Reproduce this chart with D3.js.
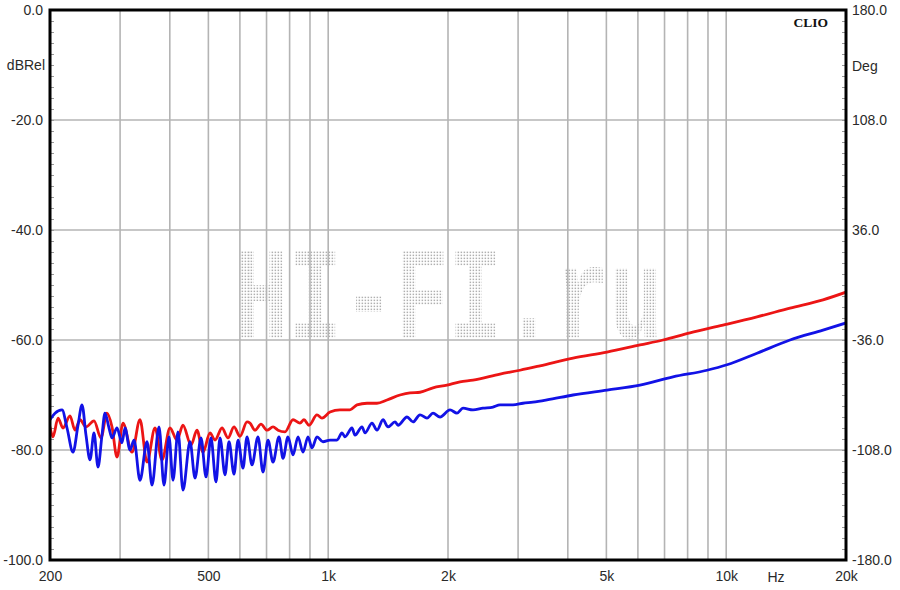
<!DOCTYPE html>
<html><head><meta charset="utf-8">
<script src="https://cdn.jsdelivr.net/npm/d3@7"></script>
<style>html,body{margin:0;padding:0;background:#fff;}svg{display:block;}</style>
</head><body>
<svg id="chart" width="900" height="590"></svg>
<script>
// ---- data ----
const xTickValues = [200, 500, 1000, 2000, 5000, 10000, 20000];
const xTickLabels = ["200", "500", "1k", "2k", "5k", "10k", "20k"];
const xGridValues = [300, 400, 500, 600, 700, 800, 900, 1000, 2000, 3000, 4000, 5000, 6000, 7000, 8000, 9000, 10000];
const dbTickValues = [0, -20, -40, -60, -80, -100];
const degTickValues = [180, 108, 36, -36, -108, -180];

const blueFreq = [200, 205.9, 214.4, 220.7, 228.5, 235.2, 240.7, 246.3, 252.1, 258.0, 264.0, 270.2, 274.9, 281.4, 286.3, 294.7, 303.3, 308.7, 317.7, 325.2, 336.6, 350.6, 360.8, 375.8, 386.8, 398.1, 407.5, 419.4, 431.7, 449.6, 462.8, 479.1, 493.2, 507.6, 522.5, 534.8, 550.5, 563.4, 579.9, 593.5, 610.9, 625.2, 643.5, 666.3, 685.8, 706.0, 726.7, 752.3, 770.0, 792.6, 815.8, 839.8, 864.4, 889.8, 910.6, 937.3, 970.4, 1010.6, 1052.3, 1083.2, 1102.2, 1147.7, 1167.8, 1216.1, 1237.4, 1288.5, 1326.3, 1373.2, 1413.5, 1471.9, 1497.7, 1577.7, 1633.4, 1701.0, 1771.3, 1833.8, 1909.6, 2023.3, 2106.9, 2181.3, 2311.2, 2448.9, 2594.8, 2702.0, 2913.1, 3086.6, 3270.4, 3546.3, 4122.0, 5018, 6073.7, 7351.3, 8949.4, 10047, 11952, 14466, 17509, 20000];
const blueDb = [-74.5, -73.3, -72.7, -76.0, -80.4, -75.5, -71.8, -77.3, -81.8, -76.9, -83.1, -77.3, -73.3, -76.0, -77.8, -76.0, -78.7, -76.0, -80.0, -78.2, -85.5, -78.5, -86.4, -75.8, -86.4, -77.6, -85.5, -76.7, -87.3, -78.5, -85.1, -77.8, -84.9, -77.8, -85.8, -77.8, -84.5, -78.5, -84.4, -78.2, -83.3, -77.6, -82.7, -77.6, -84.0, -78.2, -82.2, -77.6, -81.5, -77.6, -80.9, -77.6, -80.4, -77.6, -79.6, -77.6, -78.5, -78.2, -78.2, -76.9, -77.6, -76.0, -77.3, -75.8, -76.9, -75.1, -76.4, -74.5, -75.8, -74.9, -75.5, -74.0, -74.9, -73.6, -74.2, -73.3, -74.0, -72.7, -73.3, -72.4, -72.7, -72.4, -72.2, -71.8, -71.8, -71.5, -71.3, -70.9, -70.0, -69.1, -68.2, -66.7, -65.5, -64.5, -62.4, -60.0, -58.2, -56.9];

const redFreq = [200, 203.5, 209.5, 215.6, 224.5, 231.1, 237.9, 246.3, 258.0, 268.6, 278.1, 286.3, 294.7, 305.1, 321.4, 336.6, 350.6, 367.2, 382.3, 400.4, 417.0, 431.7, 452.2, 468.1, 484.7, 504.7, 519.5, 541.0, 560.1, 579.9, 600.4, 625.2, 636.1, 654.8, 677.9, 701.9, 726.7, 748.0, 778.9, 815.8, 849.5, 869.4, 894.9, 937.3, 964.8, 1010.6, 1070.7, 1134.5, 1181.4, 1251.8, 1326.3, 1405.3, 1515.1, 1605.3, 1701.0, 1833.8, 1988.5, 2143.8, 2311.2, 2702.0, 3033.5, 3405.6, 4122.0, 5018, 6073.7, 6938.1, 8111.1, 9817.4, 11952, 14466, 17509, 20000];
const redDb = [-75.8, -77.6, -74.2, -76.0, -73.8, -76.4, -74.5, -75.8, -74.7, -77.8, -73.3, -75.8, -81.3, -75.1, -80.4, -74.5, -82.2, -76.0, -81.8, -76.0, -78.2, -75.5, -79.1, -76.4, -80.4, -76.9, -78.2, -76.0, -77.8, -75.8, -77.5, -74.9, -75.1, -76.4, -75.3, -76.4, -75.8, -76.4, -76.7, -74.5, -75.1, -74.5, -75.5, -73.6, -74.2, -73.1, -72.7, -72.7, -71.8, -71.5, -71.5, -70.9, -70.0, -69.6, -69.5, -68.7, -68.2, -67.6, -67.3, -66.2, -65.5, -64.7, -63.3, -62.2, -60.9, -60.0, -58.7, -57.3, -55.8, -54.2, -52.7, -51.3];

// ---- layout ----
const L = 50, R = 846, T = 10, B = 560;
const svg = d3.select("#chart");
const x = d3.scaleLog().domain([200, 20000]).range([L, R]);
const yDb = d3.scaleLinear().domain([-100, 0]).range([B, T]);
const yDeg = d3.scaleLinear().domain([-180, 180]).range([B, T]);
const FONT = "'Liberation Sans', Arial, sans-serif";

svg.append("rect").attr("width", 900).attr("height", 590).attr("fill", "#fff");

// watermark horizontal compression factor
const WM_SX = 0.68;
const defs = svg.append("defs");
const pat = defs.append("pattern").attr("id", "dots").attr("width", 3 / WM_SX).attr("height", 3)
  .attr("patternUnits", "userSpaceOnUse");
pat.append("rect").attr("x", 0.6 / WM_SX).attr("y", 0.6).attr("width", 1.5 / WM_SX).attr("height", 1.5).attr("fill", "#b0b0b0");
defs.append("clipPath").attr("id", "plotclip").append("rect")
  .attr("x", L).attr("y", T).attr("width", R - L).attr("height", B - T);

// watermark
svg.append("text").attr("transform", `translate(235,338) scale(${WM_SX},1)`)
  .attr("font-family", "'Liberation Mono', 'Courier New', monospace")
  .attr("font-weight", "bold").attr("font-size", 131)
  .attr("fill", "url(#dots)").text("HI-FI.ru");

// grid
const grid = svg.append("g");
grid.selectAll("line.v").data(xGridValues).join("line")
  .attr("x1", d => x(d)).attr("x2", d => x(d)).attr("y1", T).attr("y2", B)
  .attr("stroke", "#b4b4b4").attr("stroke-width", 1.6);
grid.selectAll("line.h").data(dbTickValues.filter(d => d > -100 && d < 0)).join("line")
  .attr("x1", L).attr("x2", R).attr("y1", d => yDb(d)).attr("y2", d => yDb(d))
  .attr("stroke", "#b4b4b4").attr("stroke-width", 1.6);

// minor ticks (inside, no labels)
const minorL = d3.axisLeft(yDb).tickValues(d3.range(-98, 0, 2)).tickSize(-4).tickFormat("");
const gmL = svg.append("g").attr("transform", `translate(${L},0)`).call(minorL);
gmL.select(".domain").remove();
gmL.selectAll("text").remove();
gmL.selectAll("line").attr("stroke", "#999");
const minorR = d3.axisRight(yDeg).tickValues(d3.range(-172.8, 180, 7.2)).tickSize(-4).tickFormat("");
const gmR = svg.append("g").attr("transform", `translate(${R},0)`).call(minorR);
gmR.select(".domain").remove();
gmR.selectAll("text").remove();
gmR.selectAll("line").attr("stroke", "#999");

// curves
const line = d3.line().x(d => x(d[0])).y(d => yDb(d[1])).curve(d3.curveMonotoneX);
const curves = svg.append("g").attr("clip-path", "url(#plotclip)");
curves.append("path").datum(redFreq.map((f, i) => [f, redDb[i]]))
  .attr("d", line).attr("fill", "none").attr("stroke", "#ec1515").attr("stroke-width", 2.8)
  .attr("stroke-linejoin", "round");
curves.append("path").datum(blueFreq.map((f, i) => [f, blueDb[i]]))
  .attr("d", line).attr("fill", "none").attr("stroke", "#1212e6").attr("stroke-width", 2.8)
  .attr("stroke-linejoin", "round");

// frame
svg.append("rect").attr("x", L).attr("y", T).attr("width", R - L).attr("height", B - T)
  .attr("fill", "none").attr("stroke", "#000").attr("stroke-width", 3);

// axes labels
const axL = d3.axisLeft(yDb).tickValues(dbTickValues).tickSize(0).tickPadding(6).tickFormat(d => d.toFixed(1));
const gL = svg.append("g").attr("transform", `translate(${L - 1},0)`).call(axL);
gL.select(".domain").remove();
gL.selectAll("text").attr("font-family", FONT).attr("font-size", 14).attr("fill", "#2a2a2a");

const axR = d3.axisRight(yDeg).tickValues(degTickValues).tickSize(0).tickPadding(6).tickFormat(d => d.toFixed(1));
const gR = svg.append("g").attr("transform", `translate(${R},0)`).call(axR);
gR.select(".domain").remove();
gR.selectAll("text").attr("font-family", FONT).attr("font-size", 14).attr("fill", "#2a2a2a");

const axB = d3.axisBottom(x).tickValues(xTickValues).tickSize(0).tickPadding(11)
  .tickFormat((d, i) => xTickLabels[i]);
const gB = svg.append("g").attr("transform", `translate(0,${B})`).call(axB);
gB.select(".domain").remove();
gB.selectAll("text").attr("font-family", FONT).attr("font-size", 14).attr("fill", "#2a2a2a");

svg.append("text").attr("x", 45).attr("y", 70).attr("text-anchor", "end")
  .attr("font-family", FONT).attr("font-size", 14).attr("fill", "#2a2a2a").text("dBRel");
svg.append("text").attr("x", 852).attr("y", 71).attr("text-anchor", "start")
  .attr("font-family", FONT).attr("font-size", 14).attr("fill", "#2a2a2a").text("Deg");
svg.append("text").attr("x", 776).attr("y", 582).attr("text-anchor", "middle")
  .attr("font-family", FONT).attr("font-size", 14).attr("fill", "#2a2a2a").text("Hz");
svg.append("text").attr("x", 828).attr("y", 27).attr("text-anchor", "end")
  .attr("font-family", "'Liberation Serif', 'Times New Roman', serif").attr("font-weight", "bold")
  .attr("font-size", 13.5).attr("fill", "#111").text("CLIO");
</script>
</body></html>
